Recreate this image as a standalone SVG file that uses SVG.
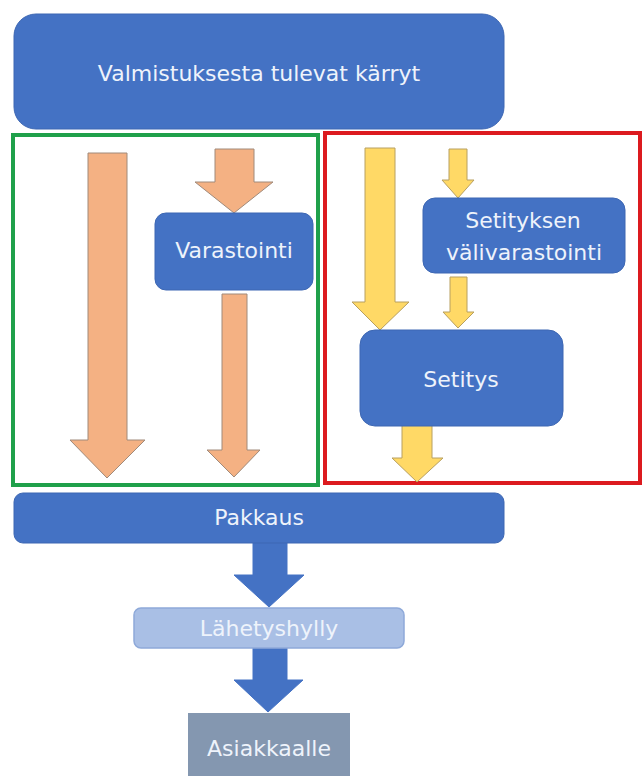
<svg xmlns="http://www.w3.org/2000/svg" width="643" height="776" viewBox="0 0 643 776">
<style>
.box{fill:#4472c4;stroke:#3d67b3;stroke-width:1}
.lbl{font-family:"DejaVu Sans",sans-serif;font-size:22px;fill:#eef3fb;text-anchor:middle}
.org{fill:#f4b183;stroke:#a08a7a;stroke-width:1}
.yel{fill:#ffd966;stroke:#b8a060;stroke-width:1}
.blu{fill:#4472c4;stroke:#4472c4;stroke-width:1}
.frame{fill:none;stroke-width:4}
</style>
<rect width="643" height="776" fill="#ffffff"/>
<g id="frames">
<rect id="green-frame" class="frame" x="13" y="135" width="305" height="350" stroke="#1fa04a"/>
<rect id="red-frame" class="frame" x="325" y="133" width="315" height="350" stroke="#dc1a1f"/>
</g>
<g id="connectors">
<polygon class="org" points="88,153 127,153 127,440 145,440 107,478 70,440 88,440"/>
<polygon class="org" points="215,149 254,149 254,182 273,182 234,213 195,182 215,182"/>
<polygon class="org" points="222,294 247,294 247,450 260,450 234,477 207,450 222,450"/>
<polygon class="yel" points="365,148 395,148 395,302 409,302 380,330 352,302 365,302"/>
<polygon class="yel" points="449,149 467,149 467,180 474,180 458,198 442,180 449,180"/>
<polygon class="yel" points="450,277 467,277 467,312 474,312 458,328 443,312 450,312"/>
<polygon class="yel" points="402,424 432,424 432,458 443,458 417,482 392,458 402,458"/>
<polygon class="blu" points="253,541 287,541 287,575 304,575 269,607 234,575 253,575"/>
<polygon class="blu" points="253,646 287,646 287,680 303,680 268,712 234,680 253,680"/>
</g>
<g id="valmistus">
<rect class="box" x="14" y="14" width="490" height="115" rx="22"/>
<text class="lbl" x="259" y="81">Valmistuksesta tulevat kärryt</text>
</g>
<g id="varastointi">
<rect class="box" x="155" y="213" width="158" height="77" rx="11"/>
<text class="lbl" x="234" y="258">Varastointi</text>
</g>
<g id="valivarastointi">
<rect class="box" x="423" y="198" width="202" height="75" rx="12"/>
<text class="lbl" x="523" y="228">Setityksen</text>
<text class="lbl" x="524" y="260">välivarastointi</text>
</g>
<g id="setitys">
<rect class="box" x="360" y="330" width="203" height="96" rx="15"/>
<text class="lbl" x="461" y="387">Setitys</text>
</g>
<g id="pakkaus">
<rect class="box" x="14" y="493" width="490" height="50" rx="9"/>
<text class="lbl" x="259" y="525">Pakkaus</text>
</g>
<g id="lahetyshylly">
<rect x="134" y="608" width="270" height="40" rx="7" fill="#a9bfe5" stroke="#8ea9d9" stroke-width="1.5"/>
<text class="lbl" x="269" y="636">Lähetyshylly</text>
</g>
<g id="asiakkaalle">
<rect x="188" y="713" width="162" height="66" fill="#8497b0"/>
<text class="lbl" x="269" y="756">Asiakkaalle</text>
</g>
</svg>
